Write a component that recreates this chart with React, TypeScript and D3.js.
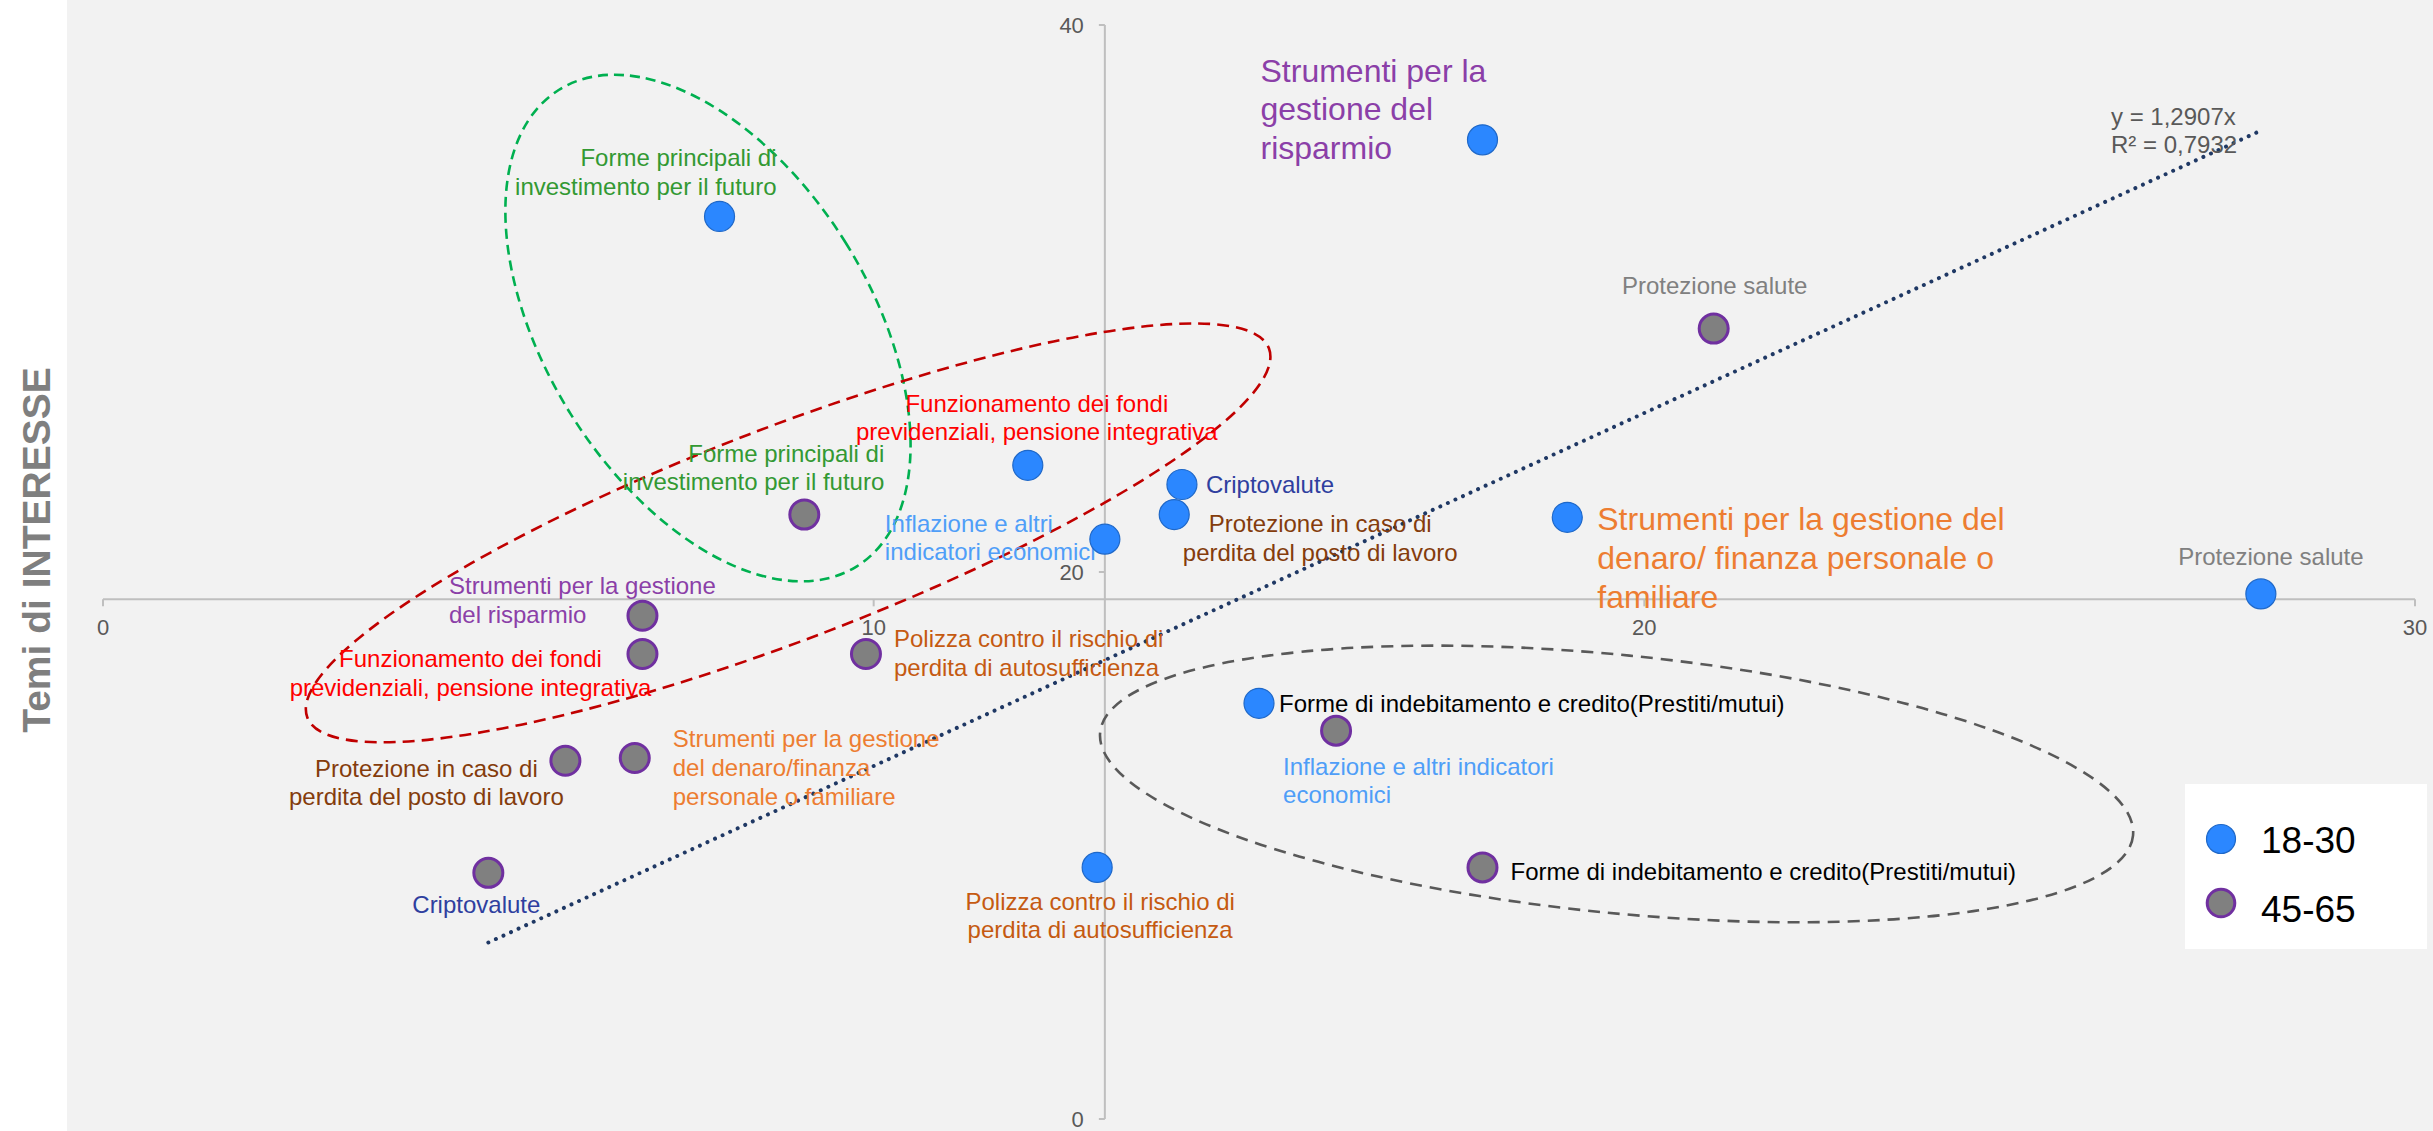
import React from "react";
import * as d3 from "d3";

// ---- data ----
const categories = [
  "Forme principali di investimento per il futuro",
  "Strumenti per la gestione del risparmio",
  "Funzionamento dei fondi previdenziali, pensione integrativa",
  "Criptovalute",
  "Protezione in caso di perdita del posto di lavoro",
  "Inflazione e altri indicatori economici",
  "Strumenti per la gestione del denaro/finanza personale o familiare",
  "Protezione salute",
  "Forme di indebitamento e credito(Prestiti/mutui)",
  "Polizza contro il rischio di perdita di autosufficienza",
];
const seriesNames = ["18-30", "45-65"];
const youngX = [8.0, 17.9, 12.0, 14.0, 13.9, 13.0, 19.0, 28.0, 15.0, 12.9];
const youngY = [33.0, 35.8, 23.9, 23.2, 22.1, 21.2, 22.0, 19.2, 15.2, 9.2];
const oldX = [9.1, 7.0, 7.0, 5.0, 6.0, 16.0, 6.9, 20.9, 17.9, 9.9];
const oldY = [22.1, 18.4, 17.0, 9.0, 13.1, 14.2, 13.2, 28.9, 9.2, 17.0];
const xTicks = [0, 10, 20, 30];
const yTicks = [0, 20, 40];
const trendSlope = 1.2907;
const trendLabel = ["y = 1,2907x", "R² = 0,7932"];
const yTitle = "Temi di INTERESSE";

// label lines per category and series
const youngLabels = [
  ["Forme principali di", "investimento per il futuro"],
  ["Strumenti per la", "gestione del", "risparmio"],
  ["Funzionamento dei fondi", "previdenziali, pensione integrativa"],
  ["Criptovalute"],
  ["Protezione in caso di", "perdita del posto di lavoro"],
  ["Inflazione e altri", "indicatori economici"],
  ["Strumenti per la gestione del", "denaro/ finanza personale o", "familiare"],
  ["Protezione salute"],
  ["Forme di indebitamento e credito(Prestiti/mutui)"],
  ["Polizza contro il rischio di", "perdita di autosufficienza"],
];
const oldLabels = [
  ["Forme principali di", "investimento per il futuro"],
  ["Strumenti per la gestione", "del risparmio"],
  ["Funzionamento dei fondi", "previdenziali, pensione integrativa"],
  ["Criptovalute"],
  ["Protezione in caso di", "perdita del posto di lavoro"],
  ["Inflazione e altri indicatori", "economici"],
  ["Strumenti per la gestione", "del denaro/finanza", "personale o familiare"],
  ["Protezione salute"],
  ["Forme di indebitamento e credito(Prestiti/mutui)"],
  ["Polizza contro il rischio di", "perdita di autosufficienza"],
];

// ---- styles / layout ----
const catColors = [
  "#339933", "#8b3fa8", "#ff0000", "#2f3f9f", "#843c0c",
  "#4f9ef8", "#ed7d31", "#808080", "#000000", "#c55a11",
];
type L = { dx: number; dy: number; anchor: string; size: number; lh: number };
const youngLayout: L[] = [
  { dx: 57, dy: -50, anchor: "end", size: 24, lh: 28.5 },
  { dx: -222, dy: -58, anchor: "start", size: 32, lh: 38.5 },
  { dx: 9, dy: -53, anchor: "middle", size: 24, lh: 28 },
  { dx: 24, dy: 9, anchor: "start", size: 24, lh: 28.5 },
  { dx: 146, dy: 17.5, anchor: "middle", size: 24, lh: 28.5 },
  { dx: -220, dy: -7, anchor: "start", size: 24, lh: 28 },
  { dx: 30, dy: 13, anchor: "start", size: 32, lh: 39 },
  { dx: 10, dy: -29, anchor: "middle", size: 24, lh: 28.5 },
  { dx: 20, dy: 9, anchor: "start", size: 24, lh: 28.5 },
  { dx: 3, dy: 43, anchor: "middle", size: 24, lh: 28 },
];
const oldLayout: L[] = [
  { dx: 80, dy: -53, anchor: "end", size: 24, lh: 28.5 },
  { dx: -193.5, dy: -22, anchor: "start", size: 24, lh: 29 },
  { dx: -172, dy: 13, anchor: "middle", size: 24, lh: 28.5 },
  { dx: -12, dy: 40, anchor: "middle", size: 24, lh: 28.5 },
  { dx: -139, dy: 16, anchor: "middle", size: 24, lh: 28.5 },
  { dx: -53, dy: 44, anchor: "start", size: 24, lh: 28.5 },
  { dx: 38, dy: -10.5, anchor: "start", size: 24, lh: 29 },
  { dx: 1, dy: -35, anchor: "middle", size: 24, lh: 28.5 },
  { dx: 28, dy: 13, anchor: "start", size: 24, lh: 28.5 },
  { dx: 28, dy: -7, anchor: "start", size: 24, lh: 29 },
];
// annotation ellipses (center in data units, radii px, rotation deg)
const ellipses = [
  { cx: 7.85, cy: 28.92, rx: 162, ry: 281, rot: -32, color: "#00b050", dash: "10 6" },
  { cx: 8.89, cy: 21.43, rx: 515, ry: 106, rot: -21, color: "#c00000", dash: "12 7" },
  { cx: 19.64, cy: 12.25, rx: 519, ry: 129, rot: 5.7, color: "#595959", dash: "12 8" },
];

const W = 2433;
const H = 1131;
const FONT = "'Liberation Sans', Arial, sans-serif";
const BLUE = "#2b87ff";
const BLUE_STROKE = "#1f68c8";
const GRAY = "#808080";
const PURPLE = "#7030a0";
const AXIS = "#bfbfbf";
const TXT = "#595959";

export default function App() {
  const x = d3.scaleLinear().domain([0, 30]).range([103, 2415]);
  const y = d3.scaleLinear().domain([0, 40]).range([1119, 25]);
  const axY = y(19);
  const axX = x(13);

  const allX = [...youngX, ...oldX];
  const tMin = d3.min(allX) as number;
  const tMax = d3.max(allX) as number;
  const trendPath = d3.line<number>()
    .x((d) => x(d))
    .y((d) => y(trendSlope * d))([tMin, tMax]) as string;

  const renderLabel = (lines: string[], px: number, py: number, l: L, color: string, key: string) => (
    <text key={key} x={px + l.dx} y={py + l.dy} textAnchor={l.anchor as any}
      fontSize={l.size} fill={color} fontFamily={FONT}>
      {lines.map((s, i) => (
        <tspan key={i} x={px + l.dx} dy={i === 0 ? 0 : l.lh}>{s}</tspan>
      ))}
    </text>
  );

  return (
    <svg width={W} height={H} style={{ position: "absolute", left: 0, top: 0 }} fontFamily={FONT}>
      <rect x={0} y={0} width={W} height={H} fill="#ffffff" />
      <rect x={67} y={0} width={W - 67} height={H} fill="#f2f2f2" />

      {/* y title */}
      <text transform={`translate(50,550) rotate(-90)`} textAnchor="middle" fontSize={39}
        fontWeight="bold" fill="#7f7f7f">{yTitle}</text>

      {/* axes */}
      <line x1={x(0)} x2={x(30)} y1={axY} y2={axY} stroke={AXIS} strokeWidth={2} />
      {xTicks.map((t) => (
        <g key={"xt" + t}>
          <line x1={x(t)} x2={x(t)} y1={axY} y2={axY + 7} stroke={AXIS} strokeWidth={2} />
          <text x={x(t)} y={axY + 36} textAnchor="middle" fontSize={22} fill={TXT}>{t}</text>
        </g>
      ))}
      <line x1={axX} x2={axX} y1={y(0)} y2={y(40)} stroke={AXIS} strokeWidth={2} />
      {yTicks.map((t) => (
        <g key={"yt" + t}>
          <line x1={axX - 6} x2={axX} y1={y(t)} y2={y(t)} stroke={AXIS} strokeWidth={2} />
          <text x={axX - 21} y={y(t) + 8} textAnchor="end" fontSize={22} fill={TXT}>{t}</text>
        </g>
      ))}

      {/* ellipses */}
      {ellipses.map((e, i) => (
        <ellipse key={"el" + i} cx={0} cy={0} rx={e.rx} ry={e.ry}
          transform={`translate(${x(e.cx)},${y(e.cy)}) rotate(${e.rot})`}
          fill="none" stroke={e.color} strokeWidth={2.6} strokeDasharray={e.dash} />
      ))}

      {/* trendline */}
      <path d={trendPath} fill="none" stroke="#1f3864" strokeWidth={4}
        strokeDasharray="0.01 8.3" strokeLinecap="round" />
      <text x={2111} y={125} fontSize={24} fill={TXT}>
        <tspan x={2111} dy={0}>{trendLabel[0]}</tspan>
        <tspan x={2111} dy={28}>{trendLabel[1]}</tspan>
      </text>

      {/* labels */}
      {categories.map((c, i) =>
        renderLabel(youngLabels[i], x(youngX[i]), y(youngY[i]), youngLayout[i], catColors[i], "yl" + i))}
      {categories.map((c, i) =>
        renderLabel(oldLabels[i], x(oldX[i]), y(oldY[i]), oldLayout[i], catColors[i], "ol" + i))}

      {/* points */}
      {oldX.map((v, i) => (
        <circle key={"op" + i} cx={x(v)} cy={y(oldY[i])} r={14.5} fill={GRAY} stroke={PURPLE} strokeWidth={3} />
      ))}
      {youngX.map((v, i) => (
        <circle key={"yp" + i} cx={x(v)} cy={y(youngY[i])} r={15} fill={BLUE} stroke={BLUE_STROKE} strokeWidth={1.2} />
      ))}

      {/* legend */}
      <rect x={2185} y={784} width={242} height={165} fill="#ffffff" />
      <circle cx={2221} cy={839} r={14.5} fill={BLUE} stroke={BLUE_STROKE} strokeWidth={1.2} />
      <text x={2261} y={853} fontSize={37} fill="#000">{seriesNames[0]}</text>
      <circle cx={2221} cy={903} r={13.8} fill={GRAY} stroke={PURPLE} strokeWidth={3} />
      <text x={2261} y={922} fontSize={37} fill="#000">{seriesNames[1]}</text>
    </svg>
  );
}
